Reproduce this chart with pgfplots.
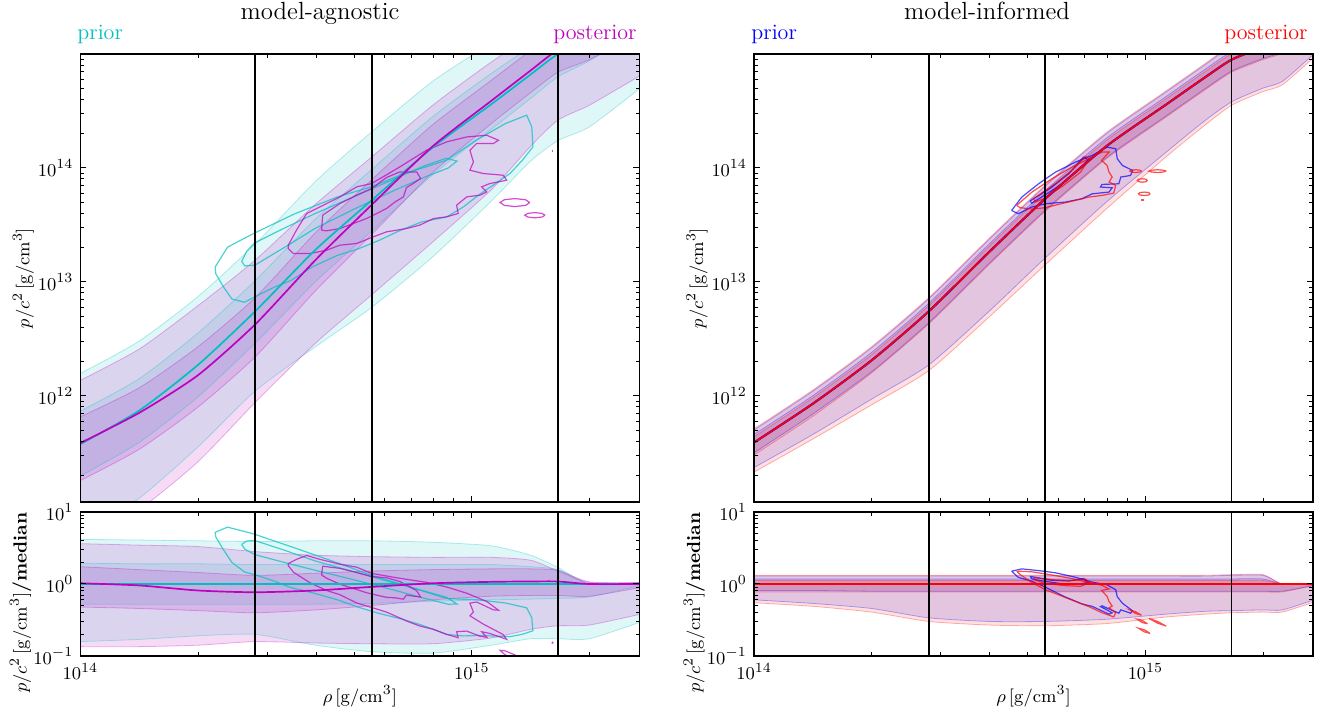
\documentclass[border=0pt]{standalone}
\usepackage{pgfplots}
\pgfplotsset{compat=1.18}
\usepackage{pgfplotstable}
\usepgfplotslibrary{fillbetween}
\definecolor{cC}{rgb}{0,0.75,0.75}
\definecolor{cM}{rgb}{0.75,0,0.75}
\definecolor{cB}{rgb}{0,0,1}
\definecolor{cR}{rgb}{1,0,0}

% all values are log10 of rho [g/cm^3] and of p/c^2 [g/cm^3] (top) or of the ratio to the prior median (bottom)
\pgfplotstableread{
lr     C      M      U90c   L90c   U50c   L50c   U90m   L90m   U50m   L50m
14.0   11.576 11.586 12.196 10.776 11.866 11.296 12.136 10.706 11.816 11.256
14.15  11.87  11.85  12.48  11.10  12.15  11.59  12.41  11.00  12.07  11.53
14.3   12.27  12.18  12.87  11.55  12.55  11.99  12.79  11.42  12.43  11.90
14.446 12.74  12.625 13.33  12.04  13.01  12.46  13.19  11.94  12.86  12.34
14.6   13.28  13.19  13.88  12.43  13.55  13.00  13.68  12.46  13.43  12.92
14.744 13.716 13.676 14.316 12.776 13.986 13.446 14.096 12.886 13.896 13.416
14.9   14.18  14.19  14.76  13.22  14.45  13.94  14.55  13.35  14.38  13.96
15.05  14.56  14.59  15.09  13.71  14.83  14.34  14.93  13.81  14.77  14.39
15.15  14.82  14.855 15.22  14.06  15.06  14.61  15.15  14.19  15.03  14.66
15.22  15.00  15.035 15.23  14.24  15.20  14.80  15.18  14.42  15.19  14.84
15.3   15.12  15.12  15.12  14.36  15.12  14.94  15.14  14.55  15.15  14.95
15.43  15.23  15.23  15.23  14.70  15.23  15.21  15.25  14.81  15.25  15.18
}\LT
\pgfplotstableread{
lr     M      U90c  L90c  U50c  L50c  U90m  L90m  U50m  L50m
14.0   0.01   0.62 -0.80  0.29 -0.28  0.56 -0.87  0.24 -0.32
14.15 -0.02   0.61 -0.77  0.28 -0.28  0.54 -0.87  0.20 -0.34
14.3  -0.09   0.60 -0.72  0.28 -0.28  0.52 -0.85  0.16 -0.37
14.446 -0.115 0.59 -0.70  0.27 -0.28  0.45 -0.80  0.12 -0.40
14.6  -0.09   0.60 -0.85  0.27 -0.28  0.40 -0.82  0.15 -0.36
14.744 -0.04  0.60 -0.94  0.27 -0.27  0.38 -0.83  0.18 -0.30
14.9   0.01   0.58 -0.96  0.27 -0.24  0.37 -0.83  0.20 -0.22
15.05  0.03   0.53 -0.85  0.27 -0.22  0.37 -0.75  0.21 -0.17
15.15  0.035  0.40 -0.76  0.24 -0.21  0.33 -0.63  0.21 -0.16
15.22  0.035  0.23 -0.76  0.20 -0.20  0.18 -0.58  0.19 -0.16
15.3   0.0    0.0  -0.76  0.0  -0.18  0.02 -0.57  0.03 -0.17
15.43  0.0    0.0  -0.53  0.0  -0.02  0.02 -0.42  0.02 -0.05
}\LB
\pgfplotstableread{
lr     R     bU90  bL90  rU90  rL90  bU50  bL50  rU50  rL50
14.0   11.59 11.70 11.37 11.71 11.33 11.66 11.50 11.64 11.48
14.15  11.93 12.04 11.66 12.05 11.62 12.00 11.84 11.98 11.82
14.3   12.31 12.42 11.97 12.43 11.92 12.38 12.21 12.36 12.20
14.446 12.74 12.85 12.27 12.86 12.22 12.81 12.64 12.79 12.63
14.6   13.26 13.37 12.74 13.38 12.69 13.33 13.16 13.31 13.15
14.744 13.73 13.84 13.21 13.85 13.15 13.80 13.63 13.78 13.62
14.9   14.19 14.30 13.70 14.31 13.64 14.26 14.09 14.24 14.08
15.05  14.55 14.66 14.13 14.67 14.09 14.62 14.45 14.60 14.44
15.15  14.79 14.90 14.41 14.91 14.37 14.86 14.69 14.84 14.68
15.22  14.95 15.07 14.58 15.08 14.55 15.02 14.85 15.00 14.84
15.3   15.06 15.18 14.70 15.19 14.67 15.13 14.96 15.11 14.95
15.35  15.12 15.12 14.76 15.12 14.73 15.12 15.02 15.12 15.01
15.43  15.22 15.22 15.00 15.22 14.97 15.22 15.20 15.22 15.20
}\RT
\pgfplotstableread{
lr     bU90  bL90  rU90  rL90  bU50  bL50  rU50  rL50
14.0   0.11 -0.22  0.12 -0.26  0.07 -0.09  0.05 -0.11
14.15  0.11 -0.27  0.12 -0.31  0.07 -0.09  0.05 -0.11
14.3   0.11 -0.34  0.12 -0.39  0.07 -0.10  0.05 -0.11
14.446 0.11 -0.47  0.12 -0.52  0.07 -0.10  0.05 -0.11
14.6   0.11 -0.52  0.12 -0.57  0.07 -0.10  0.05 -0.11
14.744 0.11 -0.52  0.12 -0.58  0.07 -0.10  0.05 -0.11
14.9   0.11 -0.49  0.12 -0.55  0.07 -0.10  0.05 -0.11
15.05  0.11 -0.42  0.12 -0.46  0.07 -0.10  0.05 -0.11
15.15  0.11 -0.38  0.12 -0.42  0.07 -0.10  0.05 -0.11
15.22  0.12 -0.37  0.13 -0.40  0.07 -0.10  0.05 -0.11
15.3   0.12 -0.36  0.13 -0.39  0.07 -0.10  0.05 -0.11
15.35  0.00 -0.36  0.00 -0.39  0.00 -0.10  0.00 -0.11
15.43  0.00 -0.22  0.00 -0.25  0.00 -0.02  0.00 -0.02
}\RB

\newcommand{\band}[5]{%
  \addplot[smooth, tension=0.4, name path=up#2, draw=#4, draw opacity=0.3, line width=0.4pt] table[x=lr,y=#2]{#1};
  \addplot[smooth, tension=0.4, name path=lo#3, draw=#4, draw opacity=0.3, line width=0.4pt] table[x=lr,y=#3]{#1};
  \addplot[fill=#4, fill opacity=#5, draw=none] fill between[of=up#2 and lo#3];
}

\pgfplotsset{
  panel/.style={scale only axis, width=279.5pt, anchor=south west,
    xmin=14, xmax=15.428, axis on top,
    axis line style={line width=0.9pt},
    tick style={black, line width=0.5pt},
    major tick length=3pt, minor tick length=1.8pt,
    xtick={14,15},
    minor xtick={14.301,14.477,14.602,14.699,14.778,14.845,14.903,14.954,15.301},
    tick label style={font=\fontsize{9.5}{11}\selectfont},
    label style={font=\fontsize{9.5}{11}\selectfont}},
  toppanel/.style={panel, height=224pt, ymin=11.068, ymax=15.0,
    ytick={12,13,14}, yticklabels={$10^{12}$,$10^{13}$,$10^{14}$},
    minor ytick={11.301,11.477,11.602,11.699,11.778,11.845,11.903,11.954,12.301,12.477,12.602,12.699,12.778,12.845,12.903,12.954,13.301,13.477,13.602,13.699,13.778,13.845,13.903,13.954,14.301,14.477,14.602,14.699,14.778,14.845,14.903,14.954},
    xticklabels={,},
    ylabel={$p/c^2\,[\mathrm{g/cm^3}]$},
    ylabel style={at={(axis description cs:-0.102,0.5)}, anchor=center}},
  botpanel/.style={panel, height=72pt, ymin=-1, ymax=1,
    ytick={-1,0,1}, yticklabels={$10^{-1}$,$10^{0}$,$10^{1}$},
    minor ytick={-0.699,-0.523,-0.398,-0.301,-0.222,-0.155,-0.097,-0.046,0.301,0.477,0.602,0.699,0.778,0.845,0.903,0.954},
    xticklabels={$10^{14}$,$10^{15}$},
    xlabel={$\rho\,[\mathrm{g/cm^3}]$},
    xlabel style={at={(axis description cs:0.5,0)}, anchor=center, yshift=-20pt},
    ylabel={$p/c^2\,[\mathrm{g/cm^3}]$\textbf{/median}},
    ylabel style={at={(axis description cs:-0.107,0.37)}, anchor=center}},
  vline/.style={black, line width=0.9pt},
  cont/.style={line width=0.6pt, draw opacity=0.7},
  med/.style={line width=0.85pt, smooth, tension=0.4},
}

\begin{document}
\begin{tikzpicture}

% ---------------- model-agnostic, top ----------------
\begin{axis}[toppanel, at={(40.2pt,107.5pt)}]
\band{\LT}{U90c}{L90c}{cC}{0.12}
\band{\LT}{U50c}{L50c}{cC}{0.12}
\band{\LT}{U90m}{L90m}{cM}{0.14}
\band{\LT}{U50m}{L50m}{cM}{0.14}
\addplot[cont, cC] coordinates {(14.344,13.129) (14.376,13.305) (14.441,13.422) (14.548,13.598) (14.656,13.745) (14.742,13.833) (14.828,13.950) (14.935,14.067) (15.011,14.243) (15.086,14.390) (15.140,14.463) (15.153,14.361) (15.156,14.185) (15.129,14.067) (15.097,13.950) (15.054,13.848) (15.022,13.774) (14.978,13.657) (14.935,13.569) (14.871,13.525) (14.817,13.452) (14.763,13.364) (14.710,13.290) (14.656,13.232) (14.591,13.129) (14.538,13.012) (14.495,12.953) (14.452,12.880) (14.419,12.821) (14.387,12.850) (14.366,12.953) (14.346,13.070) (14.344,13.129)};
\addplot[cont, cC] coordinates {(14.412,13.18) (14.425,13.27) (14.446,13.343) (14.52,13.47) (14.60,13.60) (14.70,13.75) (14.80,13.90) (14.88,14.02) (14.935,14.085) (14.962,14.06) (14.94,14.00) (14.88,13.92) (14.80,13.80) (14.70,13.64) (14.60,13.47) (14.52,13.30) (14.446,13.147) (14.42,13.14) (14.412,13.18)};
\addplot[cont, cM] coordinates {(14.531,13.322) (14.552,13.454) (14.578,13.600) (14.612,13.658) (14.663,13.746) (14.706,13.834) (14.744,13.863) (14.816,14.009) (14.884,14.155) (14.936,14.229) (14.987,14.272) (15.038,14.287) (15.068,14.243) (15.055,14.214) (15.012,14.214) (14.995,14.155) (15.004,14.053) (14.995,13.980) (15.029,13.951) (15.080,13.936) (15.089,13.892) (15.046,13.863) (15.025,13.834) (15.038,13.790) (15.021,13.761) (14.987,13.746) (14.961,13.673) (14.965,13.600) (14.936,13.571) (14.902,13.556) (14.867,13.498) (14.833,13.468) (14.782,13.439) (14.748,13.395) (14.706,13.337) (14.663,13.322) (14.629,13.278) (14.587,13.249) (14.544,13.249) (14.531,13.293) (14.531,13.322)};
\addplot[cont, cM] coordinates {(14.616,13.454) (14.619,13.585) (14.663,13.688) (14.706,13.761) (14.744,13.819) (14.782,13.916) (14.816,13.965) (14.859,13.965) (14.869,13.907) (14.850,13.863) (14.833,13.828) (14.825,13.746) (14.804,13.702) (14.782,13.644) (14.757,13.600) (14.731,13.556) (14.697,13.512) (14.663,13.468) (14.629,13.448) (14.616,13.454)};
\addplot[cont, cM] coordinates {(15.148,13.696) (15.137,13.721) (15.110,13.731) (15.083,13.721) (15.072,13.696) (15.083,13.671) (15.110,13.661) (15.137,13.671) (15.148,13.696)};
\addplot[cont, cM] coordinates {(15.187,13.585) (15.179,13.601) (15.161,13.608) (15.143,13.601) (15.135,13.585) (15.143,13.569) (15.161,13.562) (15.179,13.569) (15.187,13.585)};
\addplot[cont, cM, line width=1pt] coordinates {(15.204,14.15) (15.208,14.15)};
\addplot[med, cC] table[x=lr,y=C]{\LT};
\addplot[med, cM] table[x=lr,y=M]{\LT};
\addplot[vline] coordinates {(14.446,10) (14.446,16)};
\addplot[vline] coordinates {(14.744,10) (14.744,16)};
\addplot[vline] coordinates {(15.22,10) (15.22,16)};
\end{axis}

% ---------------- model-agnostic, bottom ----------------
\begin{axis}[botpanel, at={(40.2pt,30.5pt)}]
\band{\LB}{U90c}{L90c}{cC}{0.12}
\band{\LB}{U50c}{L50c}{cC}{0.12}
\band{\LB}{U90m}{L90m}{cM}{0.14}
\band{\LB}{U50m}{L50m}{cM}{0.14}
\addplot[cont, cC] coordinates {(14.344,0.717) (14.376,0.790) (14.441,0.698) (14.548,0.500) (14.656,0.295) (14.742,0.123) (14.828,-0.016) (14.935,-0.202) (15.011,-0.218) (15.086,-0.264) (15.140,-0.331) (15.153,-0.467) (15.156,-0.650) (15.129,-0.698) (15.097,-0.732) (15.054,-0.722) (15.022,-0.715) (14.978,-0.721) (14.935,-0.700) (14.871,-0.569) (14.817,-0.481) (14.763,-0.409) (14.710,-0.323) (14.656,-0.218) (14.591,-0.119) (14.538,-0.051) (14.495,0.041) (14.452,0.119) (14.419,0.168) (14.387,0.300) (14.366,0.471) (14.346,0.652) (14.344,0.717)};
\addplot[cont, cC] coordinates {(14.412,0.549) (14.425,0.598) (14.446,0.603) (14.52,0.471) (14.60,0.32) (14.70,0.167) (14.80,0.017) (14.88,-0.100) (14.935,-0.184) (14.962,-0.277) (14.94,-0.281) (14.88,-0.200) (14.80,-0.083) (14.70,0.057) (14.60,0.19) (14.52,0.301) (14.446,0.407) (14.42,0.484) (14.412,0.549)};
\addplot[cont, cM] coordinates {(14.531,0.284) (14.552,0.342) (14.578,0.396) (14.612,0.342) (14.663,0.275) (14.706,0.233) (14.744,0.147) (14.816,0.079) (14.884,0.023) (14.936,-0.042) (14.987,-0.128) (15.038,-0.243) (15.068,-0.364) (15.055,-0.359) (15.012,-0.250) (14.995,-0.266) (15.004,-0.390) (14.995,-0.441) (15.029,-0.556) (15.080,-0.702) (15.089,-0.769) (15.046,-0.687) (15.025,-0.663) (15.038,-0.740) (15.021,-0.726) (14.987,-0.654) (14.961,-0.662) (14.965,-0.745) (14.936,-0.700) (14.902,-0.629) (14.867,-0.584) (14.833,-0.513) (14.782,-0.390) (14.748,-0.333) (14.706,-0.264) (14.663,-0.149) (14.629,-0.090) (14.587,0.015) (14.544,0.165) (14.531,0.255) (14.531,0.284)};
\addplot[cont, cM] coordinates {(14.616,0.126) (14.619,0.247) (14.663,0.217) (14.706,0.160) (14.744,0.103) (14.782,0.087) (14.816,0.035) (14.859,-0.093) (14.869,-0.181) (14.850,-0.168) (14.833,-0.153) (14.825,-0.211) (14.804,-0.192) (14.782,-0.185) (14.757,-0.155) (14.731,-0.121) (14.697,-0.062) (14.663,-0.003) (14.629,0.080) (14.616,0.126)};
\addplot[cont, cM] coordinates {(15.148,-1.119) (15.137,-1.065) (15.110,-0.985) (15.083,-0.925) (15.072,-0.921) (15.083,-0.975) (15.110,-1.055) (15.137,-1.115) (15.148,-1.119)};
\addplot[cont, cM, line width=1pt] coordinates {(15.204,-0.81) (15.208,-0.82)};
\addplot[med, cC] coordinates {(14,0) (15.43,0)};
\addplot[med, cM] table[x=lr,y=M]{\LB};
\addplot[vline] coordinates {(14.446,-2) (14.446,2)};
\addplot[vline] coordinates {(14.744,-2) (14.744,2)};
\addplot[vline] coordinates {(15.22,-2) (15.22,2)};
\end{axis}

% ---------------- model-informed, top ----------------
\begin{axis}[toppanel, at={(377pt,107.5pt)}]
\band{\RT}{bU90}{bL90}{cB}{0.12}
\band{\RT}{bU50}{bL50}{cB}{0.12}
\band{\RT}{rU90}{rL90}{cR}{0.12}
\band{\RT}{rU50}{rL50}{cR}{0.12}
\addplot[cont, cB] coordinates {(14.658,13.627) (14.684,13.744) (14.727,13.861) (14.770,13.963) (14.821,14.051) (14.864,14.110) (14.902,14.183) (14.924,14.168) (14.928,14.080) (14.941,14.022) (14.967,13.978) (14.962,13.934) (14.937,13.920) (14.932,13.861) (14.889,13.855) (14.885,13.832) (14.915,13.826) (14.907,13.788) (14.864,13.773) (14.838,13.730) (14.795,13.700) (14.744,13.686) (14.709,13.656) (14.675,13.598) (14.658,13.627)};
\addplot[cont, cB] coordinates {(14.705,13.709) (14.761,13.832) (14.804,13.949) (14.842,14.095) (14.853,14.072) (14.830,13.984) (14.787,13.861) (14.735,13.744) (14.710,13.691) (14.705,13.709)};
\addplot[cont, cR] coordinates {(14.671,13.671) (14.710,13.788) (14.761,13.905) (14.812,14.007) (14.855,14.080) (14.889,14.139) (14.907,14.139) (14.888,14.066) (14.902,14.022) (14.907,13.963) (14.915,13.920) (14.907,13.876) (14.924,13.847) (14.919,13.779) (14.889,13.759) (14.855,13.744) (14.821,13.715) (14.778,13.680) (14.744,13.651) (14.710,13.639) (14.680,13.651) (14.671,13.671)};
\addplot[cont, cR] coordinates {(14.714,13.730) (14.769,13.861) (14.812,13.978) (14.847,14.101) (14.857,14.080) (14.834,13.963) (14.791,13.847) (14.740,13.730) (14.718,13.700) (14.714,13.730)};
\addplot[cont, cR] coordinates {(14.990,13.972) (14.986,13.980) (14.975,13.984) (14.964,13.980) (14.960,13.972) (14.964,13.964) (14.975,13.960) (14.986,13.964) (14.990,13.972)};
\addplot[cont, cR] coordinates {(15.053,13.972) (15.046,13.980) (15.031,13.984) (15.016,13.980) (15.009,13.972) (15.016,13.964) (15.031,13.960) (15.046,13.964) (15.053,13.972)};
\addplot[cont, cR] coordinates {(15.005,13.890) (15.001,13.901) (14.992,13.905) (14.983,13.901) (14.979,13.890) (14.983,13.879) (14.992,13.875) (15.001,13.879) (15.005,13.890)};
\addplot[cont, cR] coordinates {(15.012,13.773) (15.008,13.784) (14.997,13.788) (14.986,13.784) (14.982,13.773) (14.986,13.762) (14.997,13.758) (15.008,13.762) (15.012,13.773)};
\addplot[cont, cR, line width=1.2pt] coordinates {(14.989,13.721) (14.995,13.721)};
\addplot[med, cB, line width=1.1pt] table[x=lr,y=R]{\RT};
\addplot[med, cR] table[x=lr,y=R]{\RT};
\addplot[vline] coordinates {(14.446,10) (14.446,16)};
\addplot[vline] coordinates {(14.744,10) (14.744,16)};
\addplot[vline] coordinates {(15.22,10) (15.22,16)};
\end{axis}

% ---------------- model-informed, bottom ----------------
\begin{axis}[botpanel, at={(377pt,30.5pt)}]
\band{\RB}{bU90}{bL90}{cB}{0.12}
\band{\RB}{bU50}{bL50}{cB}{0.12}
\band{\RB}{rU90}{rL90}{cR}{0.12}
\band{\RB}{rU50}{rL50}{cR}{0.12}
\addplot[cont, cB] coordinates {(14.658,0.178) (14.684,0.210) (14.727,0.186) (14.770,0.156) (14.821,0.094) (14.864,0.026) (14.902,-0.012) (14.924,-0.080) (14.928,-0.177) (14.941,-0.266) (14.967,-0.373) (14.962,-0.405) (14.937,-0.359) (14.932,-0.406) (14.889,-0.303) (14.885,-0.314) (14.915,-0.400) (14.907,-0.419) (14.864,-0.311) (14.838,-0.277) (14.795,-0.180) (14.744,-0.044) (14.709,0.040) (14.675,0.093) (14.658,0.178)};
\addplot[cont, cB] coordinates {(14.705,0.106) (14.761,0.052) (14.804,0.042) (14.842,0.076) (14.853,0.021) (14.830,0.000) (14.787,0.004) (14.735,0.043) (14.710,0.072) (14.705,0.106)};
\addplot[cont, cR] coordinates {(14.671,0.179) (14.710,0.169) (14.761,0.125) (14.812,0.076) (14.855,0.023) (14.889,-0.019) (14.907,-0.068) (14.888,-0.089) (14.902,-0.173) (14.907,-0.244) (14.915,-0.306) (14.907,-0.331) (14.924,-0.401) (14.919,-0.457) (14.889,-0.399) (14.855,-0.313) (14.821,-0.242) (14.778,-0.150) (14.744,-0.079) (14.710,0.020) (14.680,0.130) (14.671,0.179)};
\addplot[cont, cR] coordinates {(14.714,0.088) (14.769,0.057) (14.812,0.047) (14.847,0.067) (14.857,0.017) (14.834,-0.032) (14.791,-0.022) (14.740,0.013) (14.718,0.055) (14.714,0.088)};
\addplot[cont, cR] coordinates {(14.990,-0.434) (14.975,-0.386) (14.960,-0.362) (14.975,-0.410) (14.990,-0.434)};
\addplot[cont, cR] coordinates {(15.053,-0.585) (15.031,-0.520) (15.009,-0.479) (15.031,-0.544) (15.053,-0.585)};
\addplot[cont, cR] coordinates {(15.005,-0.552) (14.992,-0.506) (14.979,-0.490) (14.992,-0.536) (15.005,-0.552)};
\addplot[cont, cR] coordinates {(15.012,-0.686) (14.997,-0.635) (14.982,-0.614) (14.997,-0.665) (15.012,-0.686)};
\addplot[med, cB, line width=1.1pt] coordinates {(14,0) (15.43,0)};
\addplot[med, cR] coordinates {(14,0) (15.43,0)};
\addplot[vline] coordinates {(14.446,-2) (14.446,2)};
\addplot[vline] coordinates {(14.744,-2) (14.744,2)};
\addplot[vline] coordinates {(15.22,-2) (15.22,2)};
\end{axis}

% titles and panel labels
\node[font=\fontsize{12.4}{14}\selectfont, anchor=base] at (160pt,348.5pt) {model-agnostic};
\node[font=\fontsize{12.4}{14}\selectfont, anchor=base] at (493.5pt,348.5pt) {model-informed};
\node[font=\fontsize{11}{13}\selectfont, text=cC, anchor=base west, inner sep=0pt] at (38.5pt,338.5pt) {prior};
\node[font=\fontsize{11}{13}\selectfont, text=cM, anchor=base east, inner sep=0pt] at (318.5pt,338.5pt) {posterior};
\node[font=\fontsize{11}{13}\selectfont, text=cB, anchor=base west, inner sep=0pt] at (375.5pt,338.5pt) {prior};
\node[font=\fontsize{11}{13}\selectfont, text=cR, anchor=base east, inner sep=0pt] at (654pt,338.5pt) {posterior};

\pgfresetboundingbox
\path[use as bounding box] (0,0) rectangle (666pt,358.5pt);
\end{tikzpicture}
\end{document}
